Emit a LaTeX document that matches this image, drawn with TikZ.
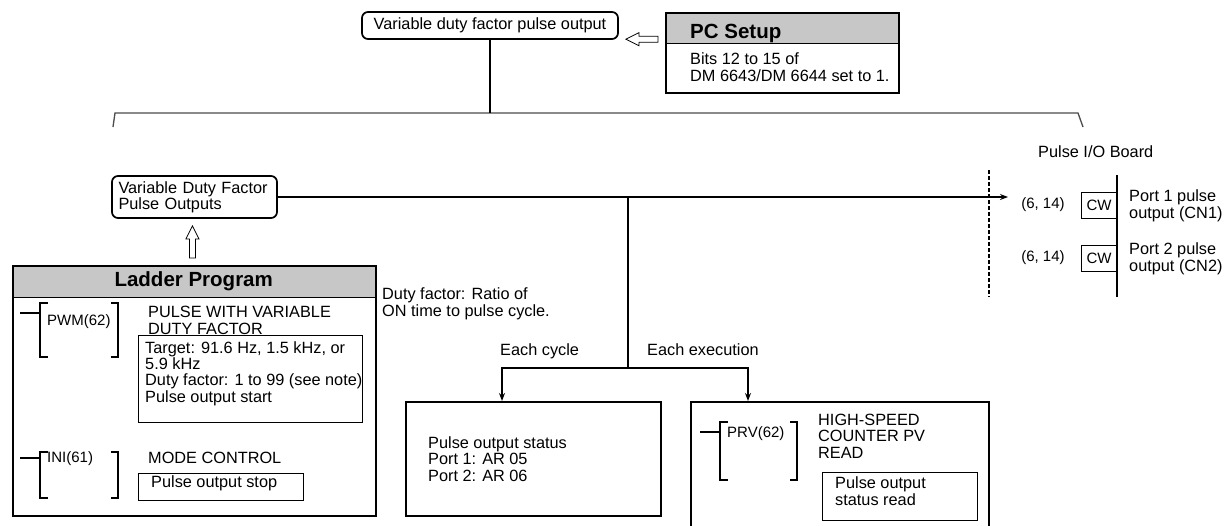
\documentclass[tikz,border=0pt]{standalone}
\usepackage{fontspec}
\setmainfont{Liberation Sans}
\usetikzlibrary{arrows.meta, calc}
\definecolor{hdrgray}{gray}{0.78}

\tikzset{
  txt/.style={inner sep=0pt, align=left, font=\fontsize{16.3}{16.3}\selectfont},
  hdr/.style={inner sep=0pt, font=\bfseries\fontsize{20.5}{20.5}\selectfont},
  instr/.style={inner sep=0pt, font=\fontsize{15}{15}\selectfont},
  rbox/.style={draw, line width=1.7pt, rounded corners=6pt, inner sep=0pt, align=left, font=\fontsize{16.3}{16.3}\selectfont},
  frame/.style={draw, line width=1.8pt, inner sep=0pt},
  hdrfill/.style={fill=hdrgray, inner sep=0pt},
  thinbox/.style={draw, line width=0.9pt, inner sep=0pt},
  hollowarrow/.pic={
    \draw[line width=0.8pt, fill=white] (-16,-3) -- (3,-3) -- (3,-6.5) -- (16,0)
      -- (3,6.5) -- (3,3) -- (-16,3) -- cycle;
  },
  wire/.style={line width=1.3pt},
  brk/.style={line width=1.1pt},
  brace/.style={line width=1.3pt, black!70},
}

\begin{document}
\begin{tikzpicture}[x=1pt, y=-1pt, >={Stealth[length=8pt,width=6pt]}]
  \useasboundingbox (0,0) rectangle (1224,525);

  % top part
  \node[rbox, minimum width=256pt, minimum height=27pt, align=center] (vdfout) at (490,25.5) {Variable duty factor pulse output};
  \node[hdrfill, minimum width=233pt, minimum height=31pt, anchor=north west] (pchdr) at (665,12) {};
  \node[frame, minimum width=233pt, minimum height=80pt, anchor=north west] (pcset) at (665,12) {};
  \draw[line width=1pt] (pchdr.south west) -- (pchdr.south east);
  \node[hdr, anchor=base west] (pctitle) at (690,38) {PC Setup};
  \node[txt, anchor=base west] (pcbits) at (690,81) {Bits 12 to 15 of\\DM 6643/DM 6644 set to 1.};
  \pic[rotate=180] at ($(vdfout.east)!0.5!(pcset.west)$) {hollowarrow};

  % brace over the whole board
  \coordinate (braceL) at (115,113);
  \coordinate (braceR) at (1078,113);
  \draw[brace] ($(braceL)+(-2,14)$) -- (braceL) -- (braceR) -- ($(braceR)+(5,14)$);
  \draw[wire] (vdfout.south) -- (vdfout.south |- braceL);

  % pulse outputs
  \node[rbox, minimum width=165pt, minimum height=42pt, text width=152pt] (vdfpo) at (194.5,197) {Variable Duty Factor\\Pulse Outputs};
  \coordinate (iotip) at (1008,197);
  \coordinate (split) at (628,197);
  \coordinate (fork) at (628,368);
  \draw[wire,->] (vdfpo.east) -- (iotip);
  \draw[wire] (split) -- (fork);

  % ladder program
  \node[hdrfill, minimum width=363pt, minimum height=32pt, anchor=north west] (ladhdr) at (12,265) {};
  \node[frame, minimum width=363pt, minimum height=250pt, anchor=north west] (ladder) at (12,265) {};
  \draw[line width=1pt] (ladhdr.south west) -- (ladhdr.south east);
  \node[hdr] (ladtitle) at (ladhdr.center) {Ladder Program};
  \pic[rotate=90] at ($(vdfpo.south)!0.5!(ladder.north)+(-2,0)$) {hollowarrow};

  \draw[brk] (20,313) -- (40,313);
  \draw[brk] (48,303) -- (40,303) -- (40,357) -- (48,357);
  \draw[brk] (111,303) -- (118,303) -- (118,357) -- (111,357);
  \node[instr, anchor=base west] (pwm) at (47,325) {PWM(62)};
  \node[txt, anchor=base west] (pwmname) at (148,334) {PULSE WITH VARIABLE\\DUTY FACTOR};
  \node[thinbox, minimum width=224pt, minimum height=87pt, anchor=north west] (pwmbox) at (138,335) {};
  \node[txt, anchor=base west] (pwmtxt) at (145,402) {Target: 91.6 Hz, 1.5 kHz, or\\5.9 kHz\\Duty factor: 1 to 99 (see note)\\Pulse output start};

  \draw[brk] (20,458) -- (40,458);
  \draw[brk] (48,452) -- (40,452) -- (40,498) -- (48,498);
  \draw[brk] (111,452) -- (118,452) -- (118,498) -- (111,498);
  \node[instr, anchor=base west] (ini) at (47,462) {INI(61)};
  \node[txt, anchor=base west] (ininame) at (148,463) {MODE CONTROL};
  \node[thinbox, minimum width=165pt, minimum height=27pt, anchor=north west] (stopbox) at (138,473) {};
  \node[txt, anchor=base west] (stoptxt) at (151,487) {Pulse output stop};

  \node[txt, anchor=base west] (dutynote) at (382,316) {Duty factor: Ratio of\\ON time to pulse cycle.};

  % results
  \node[frame, minimum width=255pt, minimum height=114pt, anchor=north west] (status) at (405,401) {};
  \node[txt, anchor=base west] (stattxt) at (428,481) {Pulse output status\\Port 1: AR 05\\Port 2: AR 06};
  \node[frame, minimum width=298pt, minimum height=130pt, anchor=north west] (prvbox) at (690,401) {};
  \draw[wire,->] (fork) -| ($(status.north west)+(97,0)$);
  \draw[wire,->] (fork) -| ($(prvbox.north west)+(58,0)$);
  \node[txt, anchor=base west] (eachcyc) at (500,355) {Each cycle};
  \node[txt, anchor=base west] (eachexe) at (647,355) {Each execution};

  \draw[brk] (700,432) -- (720,432);
  \draw[brk] (728,422) -- (720,422) -- (720,480) -- (728,480);
  \draw[brk] (790,422) -- (797,422) -- (797,480) -- (790,480);
  \node[instr, anchor=base west] (prv) at (727,437) {PRV(62)};
  \node[txt, anchor=base west] (prvname) at (818,458) {HIGH-SPEED\\COUNTER PV\\READ};
  \node[thinbox, minimum width=155pt, minimum height=48pt, anchor=north west] (readbox) at (822,472) {};
  \node[txt, anchor=base west] (readtxt) at (835,505) {Pulse output\\status read};

  % pulse I/O board
  \node[txt, anchor=base west] (board) at (1038,157) {Pulse I/O Board};
  \draw[line width=1.1pt, dashed, dash pattern=on 4pt off 2pt] (989,170) -- (989,297);
  \draw[line width=1.4pt] (1117,175) -- (1117,297);
  \node[thinbox, minimum width=35pt, minimum height=26pt, anchor=north east, font=\fontsize{15}{15}\selectfont] (cw1) at (1117,192) {CW};
  \node[thinbox, minimum width=35pt, minimum height=26pt, anchor=north east, font=\fontsize{15}{15}\selectfont] (cw2) at (1117,245) {CW};
  \node[instr] (pin1) at (1043,205) {(6, 14)};
  \node[instr] (pin2) at (1043,258) {(6, 14)};
  \node[txt, anchor=base west] (port1) at (1129,218) {Port 1 pulse\\output (CN1)};
  \node[txt, anchor=base west] (port2) at (1129,271) {Port 2 pulse\\output (CN2)};
\end{tikzpicture}
\end{document}
